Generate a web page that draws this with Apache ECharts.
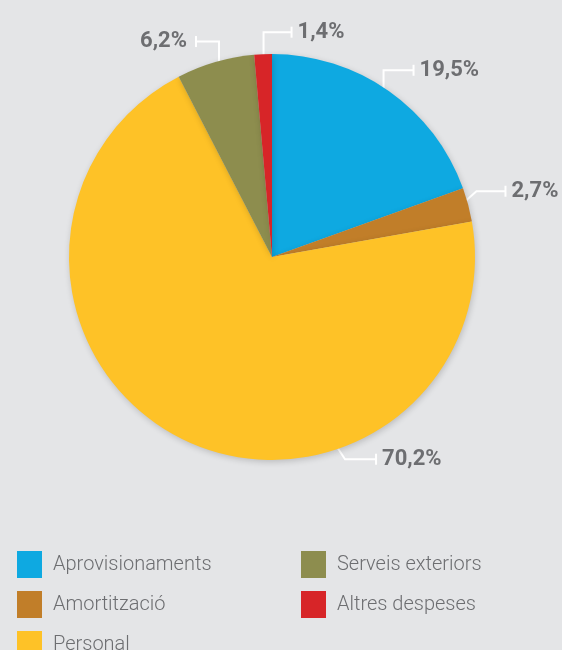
<!DOCTYPE html>
<html>
<head>
<meta charset="utf-8">
<script src="https://cdn.jsdelivr.net/npm/echarts@6/dist/echarts.min.js"></script>
<style>
html,body{margin:0;padding:0;background:#e4e5e7;}
#c{width:562px;height:650px;}
</style>
</head>
<body>
<div id="c"></div>
<script>
// Data
const categories = ['Aprovisionaments', 'Amortització', 'Personal', 'Serveis exteriors', 'Altres despeses'];
const values = [19.5, 2.7, 70.2, 6.2, 1.4];
const valueLabels = ['19,5%', '2,7%', '70,2%', '6,2%', '1,4%'];
const colors = ['#0ea9e1', '#c17e29', '#fec227', '#8d8d4e', '#d72528'];

// Layout / style config
const CX = 272, CY = 257, R = 203;
const leaders = [
  { r: 194, dx: 0, dy: -28, h: 30 },
  { r: 193, dx: 18, dy: -16, h: 29 },
  { angle: 163, r: 178, dx: 21, dy: 32, h: 31 },
  { r: 190, dx: 0, dy: -33, h: -23 },
  { r: 192, dx: 0, dy: -33, h: 28 }
];
const total = values.reduce((a, b) => a + b, 0);
function midAngle(i) {
  let s = 0;
  for (let k = 0; k < i; k++) s += values[k];
  return (s + values[i] / 2) / total * 360;
}

const chart = echarts.init(document.getElementById('c'), null, { renderer: 'canvas' });
const labelFont = "Roboto, sans-serif";
const legendText = { color: '#6d6e71', fontSize: 20, fontFamily: 'Roboto', fontWeight: 300, padding: [0, 0, 0, 6] };

chart.setOption({
  backgroundColor: '#e4e5e7',
  animation: false,
  color: colors,
  legend: [
    {
      data: [categories[0], categories[1], categories[2]],
      orient: 'vertical', left: 17, top: 551, height: 200, padding: 0,
      itemWidth: 25, itemHeight: 27, itemGap: 13,
      icon: 'rect', textStyle: legendText, selectedMode: false
    },
    {
      data: [categories[3], categories[4]],
      orient: 'vertical', left: 301, top: 551, height: 200, padding: 0,
      itemWidth: 25, itemHeight: 27, itemGap: 13,
      icon: 'rect', textStyle: legendText, selectedMode: false
    }
  ],
  series: [{
    type: 'pie',
    center: [CX, CY],
    radius: R,
    startAngle: 90,
    clockwise: true,
    itemStyle: { shadowBlur: 6, shadowColor: 'rgba(0,0,0,0.18)', shadowOffsetX: 1, shadowOffsetY: 2 },
    emphasis: { disabled: true },
    label: {
      show: true,
      position: 'outside',
      overflow: 'none',
      formatter: function (p) {
        const L = leaders[p.dataIndex];
        return L.h > 0 ? '{t|}{v|' + valueLabels[p.dataIndex] + '}' : '{w|' + valueLabels[p.dataIndex] + '}{t|}';
      },
      rich: {
        t: { width: 2, height: 11, backgroundColor: '#ffffff' },
        v: { fontFamily: labelFont, fontWeight: 'bold', fontSize: 22, color: '#6d6e71', padding: [0, 0, 0, 5] },
        w: { fontFamily: labelFont, fontWeight: 'bold', fontSize: 22, color: '#6d6e71', padding: [0, 8, 0, 0] }
      }
    },
    labelLine: { show: true, lineStyle: { color: '#ffffff', width: 2 } },
    labelLayout: function (p) {
      const i = p.dataIndex;
      const L = leaders[i];
      const a = (L.angle != null ? L.angle : midAngle(i)) * Math.PI / 180;
      const sx = CX + L.r * Math.sin(a), sy = CY - L.r * Math.cos(a);
      const ex = sx + L.dx, ey = sy + L.dy;
      const fx = ex + L.h, fy = ey;
      return {
        x: fx + (L.h > 0 ? -1 : 1),
        y: fy,
        align: L.h > 0 ? 'left' : 'right',
        verticalAlign: 'middle',
        labelLinePoints: [[sx, sy], [ex, ey], [fx, fy]]
      };
    },
    data: categories.map((c, i) => ({ name: c, value: values[i] }))
  }]
});
</script>
</body>
</html>
